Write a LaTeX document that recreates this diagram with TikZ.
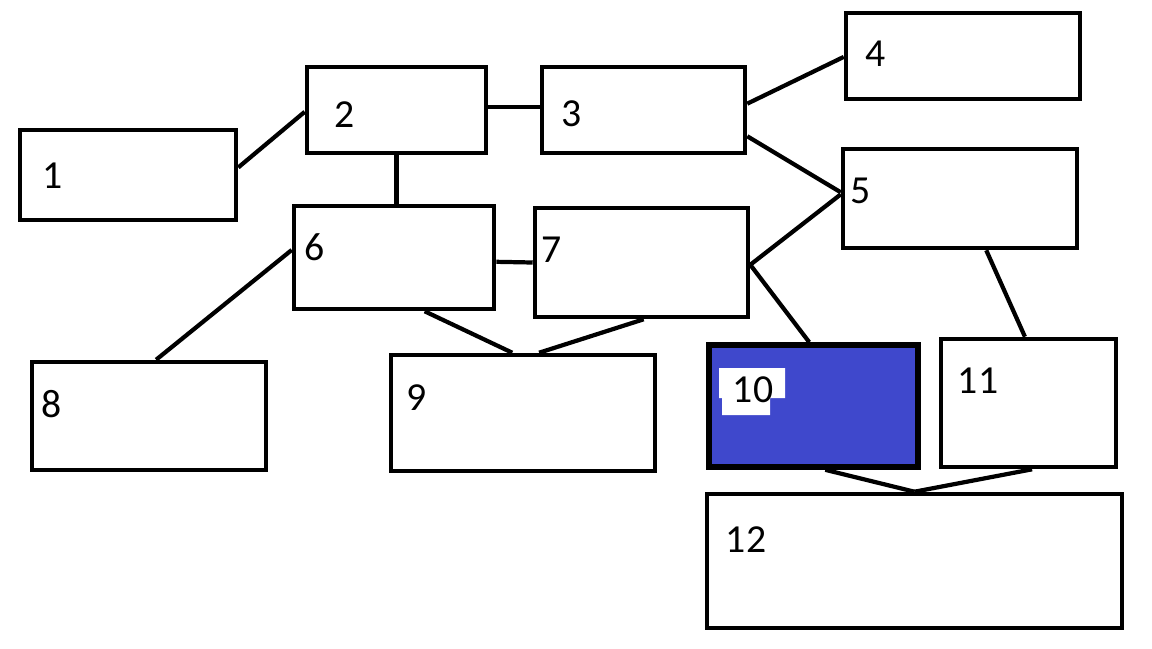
\documentclass[tikz,border=0pt]{standalone}
\usepackage{fontspec}
\setmainfont{Carlito}
\usetikzlibrary{calc}
\definecolor{paintblue}{RGB}{63,72,204}
\tikzset{
  box/.style={draw=black, line width=1.3pt, fill=white, inner sep=0pt, rectangle},
  lbl/.style={font=\fontsize{11.3}{13}\selectfont, inner sep=0pt, anchor=center},
  link/.style={draw=black, line width=1.2pt},
}
% place a box by its corners, in pixel-like units
\newcommand{\pbox}[6][]{%
  \node[box,#1, minimum width={(#4-#2)*0.01cm}, minimum height={(#5-#3)*0.01cm}]
    (#6) at ({(#2+#4)/2},{(#3+#5)/2}) {};}
\begin{document}
\begin{tikzpicture}[x=0.01cm, y=-0.01cm]
\useasboundingbox (0,0) rectangle (1152,648);

\pbox{20}{130}{236}{220}{b1}
\pbox{307}{67}{486}{153}{b2}
\pbox{542}{67}{745}{153}{b3}
\pbox{846}{13}{1080}{99}{b4}
\pbox{843}{149}{1077}{248}{b5}
\pbox{294}{206}{494}{309}{b6}
\pbox{535}{208}{748}{317}{b7}
\pbox{32}{362}{266}{470}{b8}
\pbox{391}{355}{655}{471}{b9}
\pbox[fill=paintblue, line width=1.6pt]{709}{345}{918}{467}{b10}
\pbox{941}{339}{1116}{467}{b11}
\pbox{707}{494}{1122}{628}{b12}

% white patch painted behind the 10
\fill[white] (719,368) -- (785,368) -- (785,398) -- (770,398) -- (770,415) -- (722,415) -- (722,398) -- (719,398) -- cycle;

\node[lbl] (t1) at (53,176) {1};
\node[lbl] (t2) at (345,115) {2};
\node[lbl] (t3) at (572,114) {3};
\node[lbl] (t4) at (876,54) {4};
\node[lbl] (t5) at (861,191) {5};
\node[lbl] (t6) at (315,247) {6};
\node[lbl] (t7) at (552,250) {7};
\node[lbl] (t8) at (52,404) {8};
\node[lbl] (t9) at (417,398) {9};
\node[lbl] (t10) at (753,390) {10};
\node[lbl] (t11) at (978,381) {11};
\node[lbl] (t12) at (746,540) {12};

% connectors
\draw[link] ($(b1.north east)!0.42!(b1.south east)$) -- ($(b2.north west)!0.52!(b2.south west)$);
\draw[link] ($(b2.north east)!0.47!(b2.south east)$) -- ($(b3.north west)!0.47!(b3.south west)$);
\draw[link] (b2.south) -- (b2.south |- b6.north);
\draw[link] ($(b3.north east)!0.43!(b3.south east)$) -- ($(b4.north west)!0.51!(b4.south west)$);
\draw[link] ($(b3.north east)!0.79!(b3.south east)$) -- ($(b5.north west)!0.44!(b5.south west)$);
\draw[link] ($(b7.north east)!0.52!(b7.south east)$) -- ($(b5.north west)!0.46!(b5.south west)$);
\draw[link] ($(b6.north east)!0.54!(b6.south east)$) -- ($(b7.north west)!0.50!(b7.south west)$);
\draw[link] ($(b6.north west)!0.43!(b6.south west)$) -- ($(b8.north west)!0.53!(b8.north east)$);
\draw[link] ($(b6.south west)!0.65!(b6.south east)$) -- ($(b9.north west)!0.46!(b9.north east)$);
\draw[link] ($(b7.south west)!0.51!(b7.south east)$) -- ($(b9.north west)!0.56!(b9.north east)$);
\draw[link] ($(b7.north east)!0.52!(b7.south east)$) -- ($(b10.north west)!0.48!(b10.north east)$);
\draw[link] ($(b5.south west)!0.61!(b5.south east)$) -- ($(b11.north west)!0.48!(b11.north east)$);
\draw[link] ($(b10.south west)!0.555!(b10.south east)$) -- ($(b12.north west)!0.50!(b12.north east)$);
\draw[link] ($(b11.south west)!0.52!(b11.south east)$) -- ($(b12.north west)!0.50!(b12.north east)$);
\end{tikzpicture}
\end{document}
